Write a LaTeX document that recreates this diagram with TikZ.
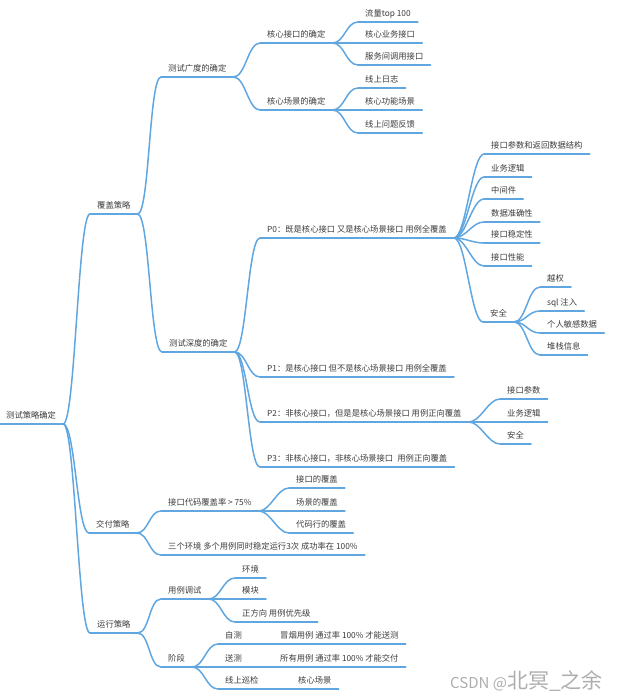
\documentclass[tikz,border=0pt]{standalone}
\usepackage{fontspec}
\setmainfont{Noto Sans CJK SC}
\usetikzlibrary{positioning}

\definecolor{mapline}{RGB}{96,166,224}
\definecolor{maptext}{RGB}{60,60,60}
\newcommand\mapfont{\fontsize{8.3pt}{10pt}\selectfont}

\begin{document}
\begin{tikzpicture}[
    x=1pt, y=-1pt,
    topic/.style={anchor=south west, inner xsep=7pt, inner ysep=3.5pt,
                  text height=7pt, text depth=1.5pt, font=\mapfont,
                  text=maptext},
    uline/.style={draw=mapline, line width=1.5pt, line cap=round},
    branch/.style={uline, to path={.. controls +(12,0) and +(-12,0)
                   .. (\tikztotarget)}}
  ]
  \useasboundingbox (0,0) rectangle (621,698);

  % root and main branches
  \node[topic] (root)    at (-1,424) {测试策略确定};
  \node[topic] (cover)   at (90,214) {覆盖策略};
  \node[topic] (deliver) at (89,533) {交付策略};
  \node[topic] (run)     at (90,633) {运行策略};

  % coverage
  \node[topic] (breadth) at (161,77)  {测试广度的确定};
  \node[topic] (depth)   at (162,352) {测试深度的确定};
  \node[topic] (api)     at (260,43)  {核心接口的确定};
  \node[topic] (scene)   at (260,110) {核心场景的确定};
  \node[topic] (flow)     at (358,22)  {流量top 100};
  \node[topic] (bizapi)   at (358,43)  {核心业务接口};
  \node[topic] (svcapi)   at (358,65)  {服务间调用接口};
  \node[topic] (log)      at (358,88)  {线上日志};
  \node[topic] (func)     at (358,110) {核心功能场景};
  \node[topic] (feedback) at (358,133) {线上问题反馈};

  \node[topic] (pzero)  at (260,238) {P0：既是核心接口 又是核心场景接口 用例全覆盖};
  \node[topic] (pone)   at (260,377) {P1：是核心接口 但不是核心场景接口 用例全覆盖};
  \node[topic] (ptwo)   at (260,422) {P2：非核心接口，但是是核心场景接口 用例正向覆盖};
  \node[topic] (pthree) at (260,467) {P3：非核心接口，非核心场景接口\enspace 用例正向覆盖};

  \node[topic] (params) at (484,154) {接口参数和返回数据结构};
  \node[topic] (logic)  at (484,177) {业务逻辑};
  \node[topic] (mid)    at (484,199) {中间件};
  \node[topic] (acc)    at (484,222) {数据准确性};
  \node[topic] (stable) at (484,243) {接口稳定性};
  \node[topic] (perf)   at (484,266) {接口性能};
  \node[topic] (sec)    at (483,322) {安全};
  \node[topic] (auth)  at (540,287) {越权};
  \node[topic] (sql)   at (540,311) {sql 注入};
  \node[topic] (priv)  at (540,333) {个人敏感数据};
  \node[topic] (stack) at (540,355) {堆栈信息};

  \node[topic] (ptparams) at (500,399) {接口参数};
  \node[topic] (ptlogic)  at (500,422) {业务逻辑};
  \node[topic] (ptsec)    at (500,444) {安全};

  % delivery
  \node[topic] (codecov)  at (161,511) {接口代码覆盖率 > 75\%};
  \node[topic] (threeenv) at (161,555) {三个环境 多个用例同时稳定运行3次 成功率在 100\%};
  \node[topic] (apicov)   at (289,488) {接口的覆盖};
  \node[topic] (scenecov) at (289,511) {场景的覆盖};
  \node[topic] (linecov)  at (289,533) {代码行的覆盖};

  % running
  \node[topic] (debug)  at (161,599) {用例调试};
  \node[topic] (stage)  at (161,667) {阶段};
  \node[topic] (env)    at (235,578) {环境};
  \node[topic] (module) at (235,599) {模块};
  \node[topic] (prio)   at (235,622) {正方向 用例优先级};
  \node[topic] (self)   at (218,644) {自测};
  \node[topic] (submit) at (218,667) {送测};
  \node[topic] (patrol) at (218,689) {线上巡检};
  \node[topic] (smoke)     at (273,644) {冒烟用例 通过率 100\% 才能送测};
  \node[topic] (allcase)   at (273,667) {所有用例 通过率 100\% 才能交付};
  \node[topic] (corescene) at (291,689) {核心场景};

  % underlines
  \foreach \n in {root,cover,deliver,run,breadth,depth,api,scene,flow,bizapi,
                  svcapi,log,func,feedback,pzero,pone,ptwo,pthree,params,logic,
                  mid,acc,stable,perf,sec,auth,sql,priv,stack,ptparams,ptlogic,
                  ptsec,codecov,threeenv,apicov,scenecov,linecov,debug,stage,
                  env,module,prio,self,submit,patrol,smoke,allcase,corescene}
    \draw[uline] (\n.south west) -- (\n.south east);

  % branches
  \foreach \a/\b in {root/cover,root/deliver,root/run,cover/breadth,cover/depth,
                     breadth/api,breadth/scene,api/flow,api/bizapi,api/svcapi,
                     scene/log,scene/func,scene/feedback,depth/pzero,depth/pone,
                     depth/ptwo,depth/pthree,pzero/params,pzero/logic,pzero/mid,
                     pzero/acc,pzero/stable,pzero/perf,pzero/sec,sec/auth,sec/sql,
                     sec/priv,sec/stack,ptwo/ptparams,ptwo/ptlogic,ptwo/ptsec,
                     deliver/codecov,deliver/threeenv,codecov/apicov,
                     codecov/scenecov,codecov/linecov,run/debug,run/stage,
                     debug/env,debug/module,debug/prio,stage/self,stage/submit,
                     stage/patrol}
    \draw[branch] (\a.south east) to (\b.south west);

  % single children
  \draw[uline] (self.south east) -- (smoke.south west);
  \draw[uline] (submit.south east) -- (allcase.south west);
  \draw[uline] (patrol.south east) -- (corescene.south west);

  \node[anchor=west, inner sep=0pt, text=black!32,
        font=\fontsize{15pt}{18pt}\selectfont] (mark) at (450,681)
    {CSDN @{\fontsize{21pt}{23pt}\selectfont 北冥\_之余}};
\end{tikzpicture}
\end{document}
